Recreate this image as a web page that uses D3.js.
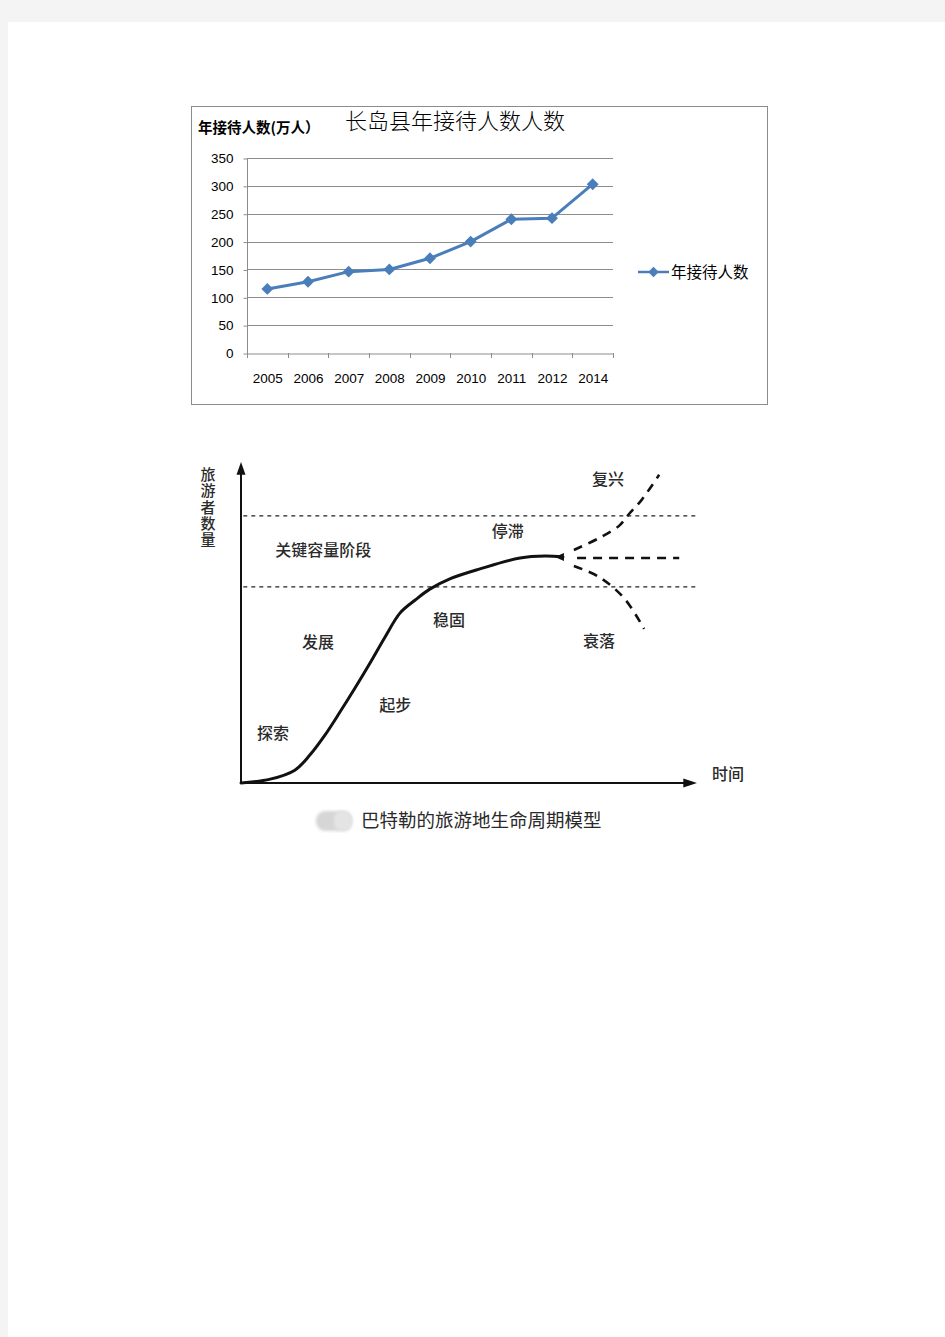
<!DOCTYPE html>
<html><head><meta charset="utf-8">
<script src="https://cdn.jsdelivr.net/npm/d3@7/dist/d3.min.js"></script>
<style>html,body{margin:0;padding:0;background:#f4f4f4;}svg{display:block;}</style>
</head><body>
<svg id="page" width="945" height="1337"></svg>
<script>
// ---- Chart 1 data ----
const years = ["2005","2006","2007","2008","2009","2010","2011","2012","2014"];
const visitors = [115, 128, 146, 150, 170, 200, 240, 242, 303];
const yTicks = [0, 50, 100, 150, 200, 250, 300, 350];
const chartTitle = "长岛县年接待人数人数";
const yAxisTitle = "年接待人数(万人）";
const seriesName = "年接待人数";

// ---- Chart 2 data (life-cycle model, abstract units 0-100) ----
const mainCurve = [[0,0],[6.4,1.2],[11.8,4.0],[15.1,8.7],[18.4,14.9],[21.7,22.1],[25.0,29.6],[28.3,37.4],[31.6,45.5],[34.9,53.0],[38.2,57.0],[41.4,60.4],[45.8,63.6],[52.4,66.7],[61.2,70.1],[66.7,70.7],[70.6,70.4]];
const revival = [[73.0,72.6],[78.5,76.3],[82.9,80.1],[85.1,83.8],[87.7,87.9],[91.7,96.0]];
const stagnation = [[73.7,70.1],[96.1,70.1]];
const decline = [[73.0,67.6],[78.5,64.2],[84.0,57.6],[88.4,48.0]];
const capacityLow = 61.1, capacityHigh = 83.2;
const stageLabels = [
  {t:"关键容量阶段", x:7.5, y:70.7},
  {t:"停滞", x:55.0, y:76.6},
  {t:"复兴", x:77.0, y:92.8},
  {t:"稳固", x:42.1, y:48.9},
  {t:"发展", x:13.4, y:42.1},
  {t:"衰落", x:75.0, y:42.4},
  {t:"起步", x:30.3, y:22.4},
  {t:"探索", x:3.5, y:13.7}
];
const yLabel2 = "旅游者数量";
const xLabel2 = "时间";
const caption2 = "巴特勒的旅游地生命周期模型";

const svg = d3.select("#page");
svg.append("rect").attr("x",8).attr("y",22).attr("width",937).attr("height",1315).attr("fill","#fff");

// ===== Chart 1 =====
const g1 = svg.append("g");
g1.append("rect").attr("x",191.5).attr("y",106.5).attr("width",576).attr("height",298)
  .attr("fill","#fff").attr("stroke","#8c8c8c").attr("stroke-width",1);

const x1 = d3.scaleBand().domain(years).range([247, 613]);
const y1 = d3.scaleLinear().domain([0, 350]).range([353, 158]);
const sans = "'Liberation Sans', 'Noto Sans CJK SC', sans-serif";

// gridlines
g1.append("g").selectAll("line").data(yTicks.filter(d=>d>0)).join("line")
  .attr("x1",247).attr("x2",613).attr("y1",d=>Math.round(y1(d))+0.5).attr("y2",d=>Math.round(y1(d))+0.5)
  .attr("stroke","#8c8c8c").attr("stroke-width",1);

// y axis
const yAx = g1.append("g").attr("transform","translate(247.5,0.5)")
  .call(d3.axisLeft(y1).tickValues(yTicks).tickSize(4).tickPadding(10));
yAx.select(".domain").attr("stroke","#8c8c8c").attr("d","M0,"+y1(350)+"V"+y1(0));
yAx.selectAll(".tick line").attr("stroke","#8c8c8c");
yAx.selectAll("text").attr("font-family",sans).attr("font-size",13.5).attr("fill","#000");

// x axis
const xAx = g1.append("g").attr("transform","translate(0.5,353.5)")
  .call(d3.axisBottom(x1).tickSize(0).tickPadding(20));
xAx.select(".domain").attr("stroke","#8c8c8c");
xAx.selectAll("text").attr("font-family",sans).attr("font-size",13.5).attr("fill","#000");
g1.append("g").selectAll("line").data(years.concat(["end"])).join("line")
  .attr("x1",(d,i)=>Math.round(247+i*x1.step())+0.5).attr("x2",(d,i)=>Math.round(247+i*x1.step())+0.5)
  .attr("y1",353).attr("y2",358).attr("stroke","#8c8c8c");

// line
const blue = "#4a7ebb";
const line1 = d3.line().x((d,i)=>x1(years[i])+x1.bandwidth()/2).y(d=>y1(d));
g1.append("path").datum(visitors).attr("d",line1).attr("fill","none")
  .attr("stroke",blue).attr("stroke-width",3).attr("stroke-linejoin","round");
const diamond = d3.symbol().type(d3.symbolDiamond2).size(90);
g1.append("g").selectAll("path").data(visitors).join("path")
  .attr("d",diamond).attr("fill",blue)
  .attr("transform",(d,i)=>`translate(${x1(years[i])+x1.bandwidth()/2},${y1(d)})`);

// titles
g1.append("text").attr("x",198).attr("y",133).attr("font-family","'Noto Sans CJK SC', sans-serif")
  .attr("font-weight","bold").attr("font-size",14.5).attr("fill","#000").text(yAxisTitle);
g1.append("text").attr("x",345).attr("y",129).attr("font-family","'Noto Sans CJK SC', sans-serif")
  .attr("font-weight",300).attr("font-size",22).attr("fill","#000").text(chartTitle);

// legend
g1.append("line").attr("x1",638).attr("x2",669).attr("y1",272).attr("y2",272).attr("stroke",blue).attr("stroke-width",2.5);
g1.append("path").attr("d",d3.symbol().type(d3.symbolDiamond2).size(70)).attr("fill",blue).attr("transform","translate(653.5,272)");
g1.append("text").attr("x",671).attr("y",278).attr("font-family","'Noto Sans CJK SC', sans-serif")
  .attr("font-size",15.5).attr("fill","#000").text(seriesName);

// ===== Chart 2 =====
const g2 = svg.append("g");
const x2 = d3.scaleLinear().domain([0,100]).range([241, 697]);
const y2 = d3.scaleLinear().domain([0,100]).range([783, 462]);
const ink = "#111";
const cjk = "'Noto Sans CJK SC', sans-serif";
const labelInk = "#2a2a2a";

// axes
g2.append("line").attr("x1",x2(0)).attr("x2",x2(0)).attr("y1",y2(0)).attr("y2",y2(96.5)).attr("stroke",ink).attr("stroke-width",2);
g2.append("path").attr("d",`M${x2(0)},${y2(100)}L${x2(0)-4.5},${y2(96)}L${x2(0)+4.5},${y2(96)}Z`).attr("fill",ink);
g2.append("line").attr("x1",x2(0)).attr("x2",x2(97.5)).attr("y1",y2(0)).attr("y2",y2(0)).attr("stroke",ink).attr("stroke-width",2);
g2.append("path").attr("d",`M${x2(100)},${y2(0)}L${x2(97)},${y2(0)-4.5}L${x2(97)},${y2(0)+4.5}Z`).attr("fill",ink);

// capacity dashed lines
g2.selectAll("line.cap").data([capacityLow, capacityHigh]).join("line").attr("class","cap")
  .attr("x1",x2(0.5)).attr("x2",x2(100)).attr("y1",d=>y2(d)).attr("y2",d=>y2(d))
  .attr("stroke","#222").attr("stroke-width",1.2).attr("stroke-dasharray","4,4");

// main curve
const line2 = d3.line().x(d=>x2(d[0])).y(d=>y2(d[1])).curve(d3.curveCatmullRom);
g2.append("path").datum(mainCurve).attr("d",line2).attr("fill","none").attr("stroke",ink)
  .attr("stroke-width",3).attr("stroke-linecap","round");
// end wedge
const last = mainCurve[mainCurve.length-1];
g2.append("path").attr("d",`M${x2(last[0])-8},${y2(last[1])}L${x2(last[0])+1},${y2(last[1])-4}L${x2(last[0])+1},${y2(last[1])+4}Z`).attr("fill",ink);

// branches
[revival, stagnation, decline].forEach(b=>{
  g2.append("path").datum(b).attr("d",line2).attr("fill","none").attr("stroke",ink)
    .attr("stroke-width",2.6).attr("stroke-dasharray","9,7");
});

// labels
g2.selectAll("text.stage").data(stageLabels).join("text").attr("class","stage")
  .attr("x",d=>x2(d.x)).attr("y",d=>y2(d.y)).attr("font-family",cjk).attr("font-size",16)
  .attr("font-weight",500).attr("fill",labelInk).text(d=>d.t);
g2.append("text").attr("x",208).attr("y",467).attr("writing-mode","vertical-rl")
  .attr("font-family",cjk).attr("font-size",15).attr("letter-spacing",1.3)
  .attr("font-weight",500).attr("fill",labelInk).text(yLabel2);
g2.append("text").attr("x",712).attr("y",780).attr("font-family",cjk).attr("font-size",16)
  .attr("font-weight",500).attr("fill",labelInk).text(xLabel2);

// caption
const blur = svg.append("defs").append("filter").attr("id","bl");
blur.append("feGaussianBlur").attr("stdDeviation",1.5);
g2.append("rect").attr("x",316).attr("y",811).attr("width",36).attr("height",20).attr("rx",9)
  .attr("fill","#d6d6d6").attr("filter","url(#bl)");
g2.append("rect").attr("x",334).attr("y",811).attr("width",18).attr("height",20).attr("rx",8)
  .attr("fill","#e4e4e4").attr("filter","url(#bl)");
g2.append("text").attr("x",361).attr("y",827).attr("font-family",cjk).attr("font-size",18.5)
  .attr("fill",labelInk).text(caption2);
</script>
</body></html>
